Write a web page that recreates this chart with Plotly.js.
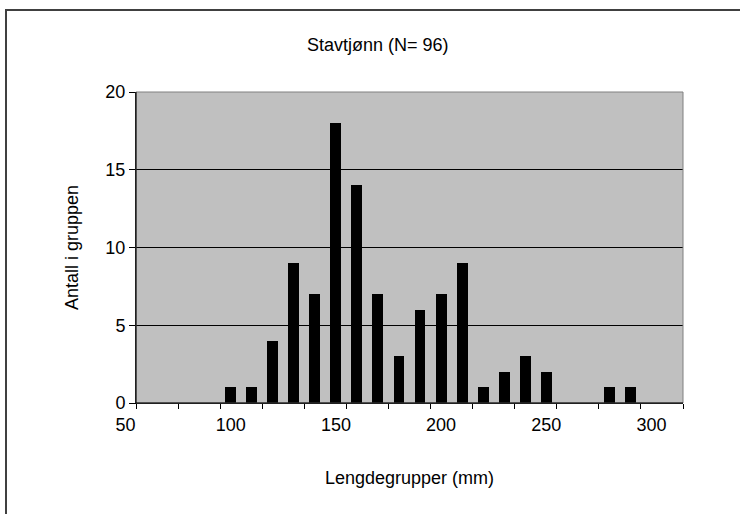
<!DOCTYPE html>
<html>
<head>
<meta charset="utf-8">
<script src="https://cdn.plot.ly/plotly-3.0.1.min.js"></script>
<style>html,body{margin:0;padding:0;background:#fff;}#chart{width:748px;height:514px;}</style>
</head>
<body>
<div id="chart"></div>
<script>
// Length groups (mm) and counts
const lengthGroups = [60,70,80,90,100,110,120,130,140,150,160,170,180,190,200,210,220,230,240,250,260,270,280,290,300,310];
const counts =       [0, 0, 0, 0, 1,  1,  4,  9,  7,  18, 14, 7,  3,  6,  7,  9,  1,  2,  3,  2,  0,  0,  1,  1,  0,  0];
const tickLabels = ['50','100','150','200','250','300'];
const tickLabelPositions = [60,110,160,210,260,310];
const yTicks = [0,5,10,15,20];

const FONT = 'Liberation Sans, Arial, sans-serif';
const FS = 18;

const trace = {
  type: 'bar',
  x: lengthGroups,
  y: counts,
  width: 5.2,
  marker: {color: '#000000', line: {width: 0}},
  hoverinfo: 'x+y'
};

const W = 748, H = 514, ML = 136, MR = 65, MT = 92, MB = 111;
const pw = W - ML - MR, ph = H - MT - MB;
function px2paperX(px) { return (px - ML) / pw; }
function px2paperY(py) { return (H - MB - py) / ph; }

const layout = {
  width: W, height: H,
  margin: {l: ML, r: MR, t: MT, b: MB},
  paper_bgcolor: '#ffffff',
  plot_bgcolor: '#c0c0c0',
  font: {family: FONT, size: FS, color: '#000'},
  showlegend: false,
  bargap: 0,
  title: {
    text: 'Stavtjønn (N= 96)',
    font: {family: FONT, size: FS, color: '#000'},
    x: 0.505, xref: 'container', xanchor: 'center',
    y: 1 - 45/514, yref: 'container', yanchor: 'middle'
  },
  xaxis: {
    range: [55, 315],
    tickmode: 'array',
    tickvals: tickLabelPositions,
    ticktext: tickLabels,
    ticks: '',
    ticklabelshift: -21,
    ticklabelstandoff: 5,
    tickfont: {family: FONT, size: FS, color: '#000'},
    minor: {tick0: 55, dtick: 20, ticks: 'outside', ticklen: 5, tickcolor: '#000', tickwidth: 1, showgrid: false},
    showgrid: false,
    zeroline: false,
    showline: true, linecolor: '#000', linewidth: 1,
    fixedrange: true,
    title: {text: 'Lengdegrupper (mm)', font: {family: FONT, size: FS, color: '#000'}, standoff: 37}
  },
  yaxis: {
    range: [0, 20],
    tickmode: 'array',
    tickvals: yTicks,
    ticks: 'outside', ticklen: 6, tickcolor: '#000', tickwidth: 1,
    tickfont: {family: FONT, size: FS, color: '#000'},
    showgrid: true, gridcolor: '#000', gridwidth: 1,
    zeroline: false,
    showline: true, linecolor: '#000', linewidth: 1,
    fixedrange: true,
    title: {text: 'Antall i gruppen', font: {family: FONT, size: FS, color: '#000'}, standoff: 22}
  },
  shapes: [
    {type: 'rect', xref: 'x domain', yref: 'y domain', x0: 0, x1: 1, y0: 0, y1: 1,
     line: {color: '#808080', width: 1}, fillcolor: 'rgba(0,0,0,0)', layer: 'above'},
    {type: 'line', xref: 'paper', yref: 'paper', x0: px2paperX(5), x1: px2paperX(740), y0: px2paperY(10), y1: px2paperY(10),
     line: {color: '#000', width: 1.5}, layer: 'above'},
    {type: 'line', xref: 'paper', yref: 'paper', x0: px2paperX(6), x1: px2paperX(6), y0: px2paperY(10), y1: px2paperY(514),
     line: {color: '#404040', width: 2}, layer: 'above'},
    {type: 'line', xref: 'x domain', yref: 'y domain', x0: 0, x1: 1, y0: 0, y1: 0,
     line: {color: '#000', width: 1}, layer: 'above'},
    {type: 'line', xref: 'x domain', yref: 'y domain', x0: 0, x1: 0, y0: 0, y1: 1,
     line: {color: '#000', width: 1}, layer: 'above'}
  ]
};

Plotly.newPlot('chart', [trace], layout, {displayModeBar: false, staticPlot: true});
</script>
</body>
</html>
